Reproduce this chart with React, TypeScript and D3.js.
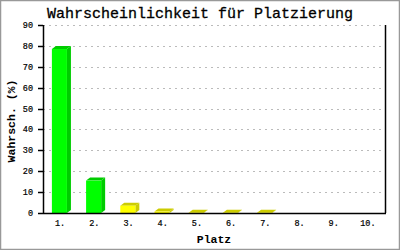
import React from "react";
import * as d3 from "d3";

const categories = ["1.", "2.", "3.", "4.", "5.", "6.", "7.", "8.", "9.", "10."];
const values = [78.5, 15.5, 3.5, 0.7, 0.15, 0.15, 0.15, 0, 0, 0];
const yTicks = [0, 10, 20, 30, 40, 50, 60, 70, 80, 90];
const title = "Wahrscheinlichkeit für Platzierung";
const yLabel = "Wahrsch. (%)";
const xLabel = "Platz";

const W = 400, H = 250;
const left = 43, right = 385, top = 25, bottom = 213;
const dx = 4, dy = 3;
const font = "'Liberation Mono', 'DejaVu Sans Mono', monospace";

export default function App() {
  const x = d3.scaleBand<string>().domain(categories).range([left, right]).padding(0);
  const y = d3.scaleLinear().domain([0, 90]).range([bottom, top]);
  const bw = x.bandwidth();
  return (
    <svg width={W} height={H} style={{ position: "absolute", left: 0, top: 0, background: "#fff" }}>
      <rect x={0.5} y={0.5} width={W - 1} height={H - 1} fill="#fff" stroke="#999" strokeWidth={1.5} />
      <text x={200} y={18} textAnchor="middle" fontFamily={font} fontSize={15} fontWeight="normal" fill="#000" stroke="#000" strokeWidth={0.3}>{title}</text>
      {yTicks.filter(t => t > 0).map(t => (
        <line key={"g" + t} x1={left} x2={right} y1={Math.round(y(t)) + 0.5} y2={Math.round(y(t)) + 0.5}
          stroke="#bbb" strokeDasharray="2,4" />
      ))}
      {categories.map((c, i) => {
        const v = values[i];
        if (v <= 0) return null;
        const x0 = (x(c) as number) + bw * 0.26;
        const w = bw * 0.44;
        const yt = y(v);
        const green = i < 2;
        const front = green ? "#00ff00" : "#ffff00";
        const dark = green ? "#00cc00" : "#cccc00";
        return (
          <g key={c}>
            <polygon points={`${x0 + w},${bottom} ${x0 + w + dx},${bottom - dy} ${x0 + w + dx},${yt - dy} ${x0 + w},${yt}`} fill={dark} />
            <polygon points={`${x0},${yt} ${x0 + dx},${yt - dy} ${x0 + w + dx},${yt - dy} ${x0 + w},${yt}`} fill={dark} />
            <rect x={x0} y={yt} width={w} height={bottom - yt} fill={front} />
          </g>
        );
      })}
      <line x1={left + 0.5} x2={left + 0.5} y1={top} y2={bottom} stroke="#000" strokeWidth={1.5} />
      <line x1={right + 0.5} x2={right + 0.5} y1={top} y2={bottom} stroke="#000" strokeWidth={1.5} />
      <line x1={left} x2={right + 1} y1={bottom + 0.5} y2={bottom + 0.5} stroke="#000" strokeWidth={1.5} />
      {yTicks.map(t => (
        <g key={"t" + t}>
          <line x1={left - 5} x2={left} y1={Math.round(y(t)) + 0.5} y2={Math.round(y(t)) + 0.5} stroke="#000" strokeWidth={1.5} />
          <text x={33} y={y(t) + 3} textAnchor="end" fontFamily={font} fontSize={8.5} fill="#000" stroke="#000" strokeWidth={0.2}>{t}</text>
        </g>
      ))}
      {categories.map(c => (
        <text key={"x" + c} x={(x(c) as number) + bw / 2} y={226} textAnchor="middle" fontFamily={font} fontSize={8.5} fill="#000" stroke="#000" strokeWidth={0.2}>{c}</text>
      ))}
      <text x={214} y={243} textAnchor="middle" fontFamily={font} fontSize={11.5} fontWeight="bold" fill="#000">{xLabel}</text>
      <text transform={`translate(15,121) rotate(-90)`} textAnchor="middle" fontFamily={font} fontSize={11.5} fontWeight="bold" fill="#000">{yLabel}</text>
    </svg>
  );
}
